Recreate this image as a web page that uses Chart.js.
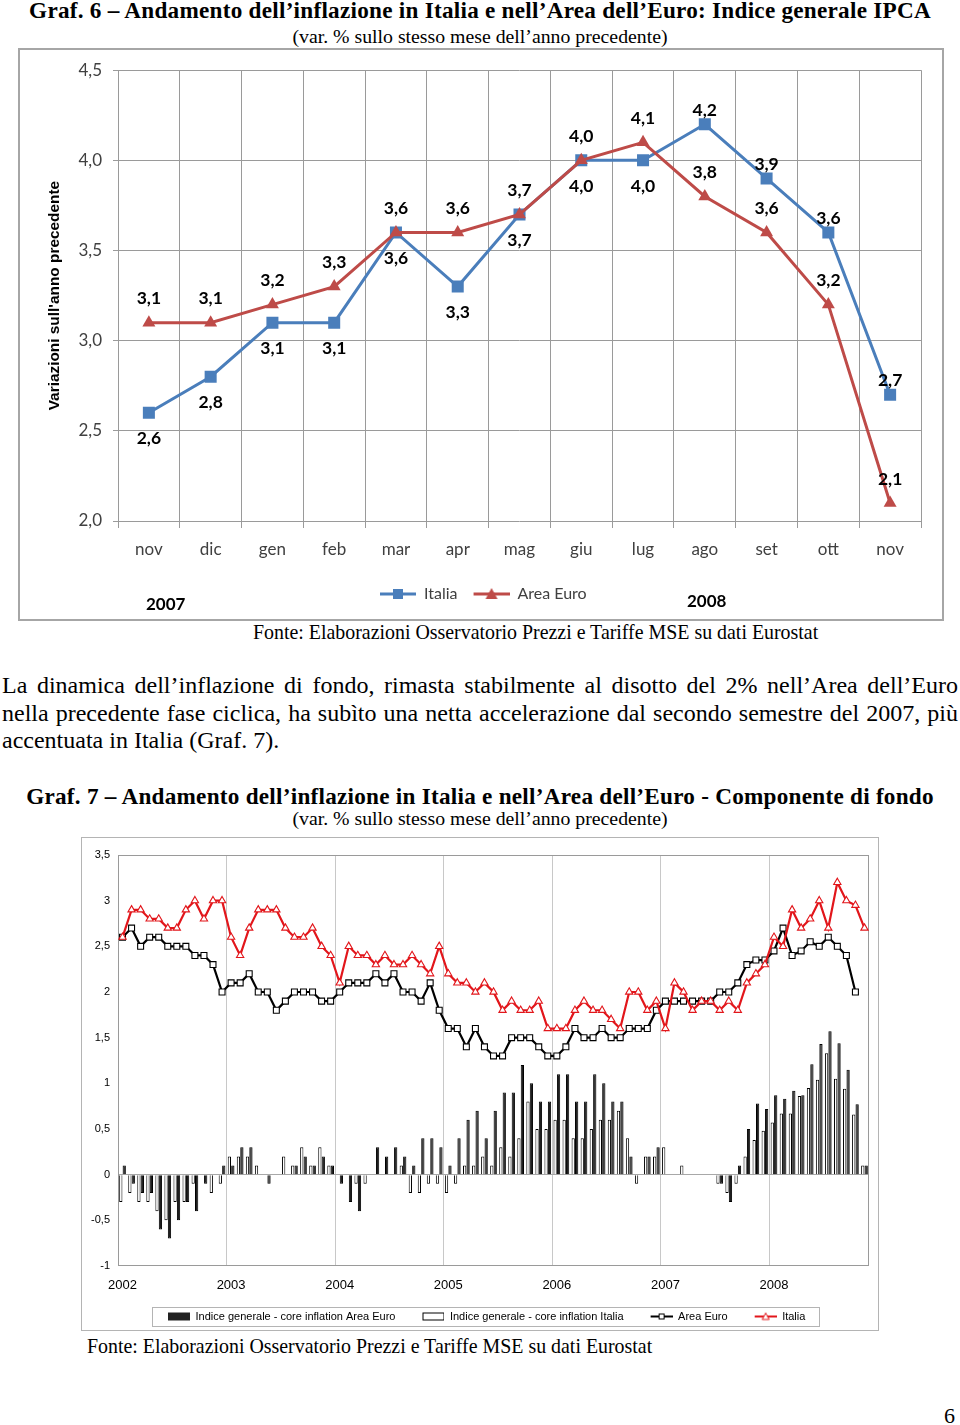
<!DOCTYPE html>
<html lang="it">
<head>
<meta charset="utf-8">
<title>Andamento dell'inflazione</title>
<script src="https://cdn.jsdelivr.net/npm/chart.js@4.4.1/dist/chart.umd.min.js"></script>
<style>
  html, body { margin: 0; padding: 0; background: #fff; }
  body { width: 960px; height: 1425px; position: relative; overflow: hidden;
         font-family: "Liberation Serif", "Times New Roman", serif; color: #000; }
  .t { position: absolute; white-space: nowrap; }
  .title { left: 0; width: 960px; text-align: center; font-weight: bold; font-size: 23.2px; line-height: 26px; letter-spacing: 0.25px; }
  .sub { left: 0; width: 960px; text-align: center; font-size: 19.8px; line-height: 22px; }
  .src { font-size: 19.9px; line-height: 22px; }
  .box { position: absolute; box-sizing: border-box; }
  .para { position: absolute; left: 2px; width: 956px; font-size: 24px; line-height: 27.5px; }
  .para .j { text-align: justify; text-align-last: justify; }
  .year { position: absolute; font-family: Lato, "Open Sans", sans-serif; font-weight: bold; font-size: 17px; line-height: 20px; }
  canvas { position: absolute; }
</style>
</head>
<body>

<div class="t title" style="top:-3.5px">Graf. 6 – Andamento dell’inflazione in Italia e nell’Area dell’Euro: Indice generale IPCA</div>
<div class="t sub" style="top:25px">(var. % sullo stesso mese dell’anno precedente)</div>

<div class="box" style="left:18px;top:48px;width:926px;height:573px;border:2px solid #a6a6a6;"></div>
<canvas id="c1" width="923" height="570" style="left:19px;top:49px"></canvas>
<div class="year" style="left:146px;top:594px">2007</div>
<div class="year" style="left:687px;top:591px">2008</div>

<div class="t src" style="left:253px;top:621px">Fonte: Elaborazioni Osservatorio Prezzi e Tariffe MSE su dati Eurostat</div>

<div class="para" style="top:672px">
  <div class="j">La dinamica dell’inflazione di fondo, rimasta stabilmente al disotto del 2% nell’Area dell’Euro</div>
  <div class="j">nella precedente fase ciclica, ha subìto una netta accelerazione dal secondo semestre del 2007, più</div>
  <div>accentuata in Italia (Graf. 7).</div>
</div>

<div class="t title" style="top:782.5px">Graf. 7 – Andamento dell’inflazione in Italia e nell’Area dell’Euro - Componente di fondo</div>
<div class="t sub" style="top:807px">(var. % sullo stesso mese dell’anno precedente)</div>

<div class="box" style="left:81px;top:837px;width:798px;height:494px;border:1px solid #b4b4b4;"></div>
<canvas id="c2" width="795" height="494" style="left:82px;top:838px"></canvas>

<div class="t src" style="left:87px;top:1335px">Fonte: Elaborazioni Osservatorio Prezzi e Tariffe MSE su dati Eurostat</div>

<div class="t" style="left:944px;top:1404px;font-size:22px;line-height:24px">6</div>

<script>
// ---------------- DATA: Graf. 6 ----------------
const g6Months   = ['nov','dic','gen','feb','mar','apr','mag','giu','lug','ago','set','ott','nov'];
const g6Italia   = [2.6, 2.8, 3.1, 3.1, 3.6, 3.3, 3.7, 4.0, 4.0, 4.2, 3.9, 3.6, 2.7];
const g6AreaEuro = [3.1, 3.1, 3.2, 3.3, 3.6, 3.6, 3.7, 4.0, 4.1, 3.8, 3.6, 3.2, 2.1];

// ---------------- DATA: Graf. 7 ----------------
const g7Years      = ['2002','2003','2004','2005','2006','2007','2008'];
const g7MonthNames = ['gen','feb','mar','apr','mag','giu','lug','ago','set','ott','nov','dic'];
// core inflation Italia (red line)
const g7CoreItalia = [
  2.6, 2.9, 2.9, 2.8, 2.8, 2.7, 2.7, 2.9, 3.0, 2.8, 3.0, 3.0,
  2.6, 2.4, 2.7, 2.9, 2.9, 2.9, 2.7, 2.6, 2.6, 2.7, 2.5, 2.4,
  2.1, 2.5, 2.4, 2.4, 2.3, 2.4, 2.3, 2.3, 2.4, 2.3, 2.2, 2.5,
  2.2, 2.1, 2.1, 2.0, 2.1, 2.0, 1.8, 1.9, 1.8, 1.8, 1.9, 1.6,
  1.6, 1.6, 1.8, 1.9, 1.8, 1.8, 1.7, 1.6, 2.0, 2.0, 1.8, 1.9,
  1.6, 2.1, 2.0, 1.8, 1.9, 1.9, 1.8, 1.9, 1.8, 2.1, 2.2, 2.3,
  2.6, 2.5, 2.9, 2.7, 2.8, 3.0, 2.7, 3.2, 3.0, 2.95, 2.7
];
// core inflation Area Euro (black line)
const g7CoreAreaEuro = [
  2.6, 2.7, 2.5, 2.6, 2.6, 2.5, 2.5, 2.5, 2.4, 2.4, 2.3, 2.0,
  2.1, 2.1, 2.2, 2.0, 2.0, 1.8, 1.9, 2.0, 2.0, 2.0, 1.9, 1.9,
  2.0, 2.1, 2.1, 2.1, 2.2, 2.1, 2.2, 2.0, 2.0, 1.9, 2.1, 1.8,
  1.6, 1.6, 1.4, 1.6, 1.4, 1.3, 1.3, 1.5, 1.5, 1.5, 1.4, 1.3,
  1.3, 1.4, 1.6, 1.5, 1.5, 1.6, 1.5, 1.5, 1.6, 1.6, 1.6, 1.8,
  1.9, 1.9, 1.9, 1.9, 1.9, 1.9, 2.0, 2.0, 2.1, 2.3, 2.35, 2.35,
  2.45, 2.7, 2.4, 2.45, 2.55, 2.5, 2.6, 2.5, 2.4, 2.0, null
];
// indice generale - core inflation Area Euro (black bars)
const g7GapAreaEuro = [
  0.1, -0.1, -0.2, -0.2, -0.6, -0.7, -0.5, -0.3, -0.4, -0.1, 0, 0.1,
  0.1, 0.3, 0.3, 0, -0.1, 0, 0, 0.1, 0.2, 0.1, 0.2, 0.1,
  -0.1, -0.3, -0.4, 0, 0.3, 0.2, 0.3, 0.2, 0.1, 0.4, 0.4, 0.3,
  0.1, 0.4, 0.6, 0.7, 0.4, 0.7, 0.9, 0.9, 1.2, 1.0, 0.8, 0.8,
  1.1, 1.1, 0.8, 0.8, 1.1, 1.0, 0.8, 0.8, 0.2, 0, 0.2, 0.3,
  0, 0, 0, 0, 0, 0, -0.1, -0.3, 0.1, 0.5, 0.78, 0.72,
  0.87, 0.83, 0.92, 0.87, 1.21, 1.43, 1.57, 1.44, 1.15, 0.77, 0.1
];
// indice generale - core inflation Italia (white bars)
const g7GapItalia = [
  -0.3, -0.2, -0.3, -0.3, -0.4, -0.5, -0.3, -0.3, -0.1, 0, -0.2, -0.1,
  0.2, 0.2, 0.2, 0.1, 0, 0, 0.2, 0.1, 0.3, 0.1, 0.3, 0.1,
  0, 0, -0.1, -0.1, 0, 0, 0, 0.1, -0.2, -0.2, -0.1, -0.1,
  -0.2, -0.1, 0.1, 0.1, 0.2, 0.1, 0.3, 0.2, 0.4, 0.8, 0.5, 0.5,
  0.6, 0.6, 0.4, 0.4, 0.5, 0.6, 0.6, 0.7, 0.4, -0.1, 0.2, 0.2,
  0.3, 0, 0.1, 0, 0, 0, -0.1, -0.2, -0.1, 0.2, 0.38, 0.48,
  0.57, 0.67, 0.67, 0.86, 0.95, 1.04, 1.33, 1.05, 0.94, 0.66, 0.1
];
const g7Categories = g7Years.flatMap(y => g7MonthNames.map(m => m + ' ' + y)).slice(0, g7CoreItalia.length);

// ---------------- helpers ----------------
Chart.defaults.font.family = 'Lato, "Open Sans", sans-serif';
const fmtIt = v => String(v).replace('.', ',');

function makeSymbol(w, h, draw) {
  const c = document.createElement('canvas');
  c.width = w; c.height = h;
  draw(c.getContext('2d'), w, h);
  return c;
}
function legendShift(targetStart) {
  return {
    id: 'legendShift',
    afterLayout(chart) {
      const lg = chart.legend;
      if (!lg || !lg.lineWidths) return;
      const pad = lg.options.labels.padding;
      const start = (lg.left + pad + lg.right - lg.lineWidths[0]) / 2;
      const d = targetStart - start;
      lg.left += d; lg.right += d;
    }
  };
}

// ---------------- Graf. 6 ----------------
const BLUE = '#4a7ebb', RED = '#be4b48';
const sym6 = [
  makeSymbol(42, 16, (c, w, h) => {
    c.strokeStyle = BLUE; c.lineWidth = 3;
    c.beginPath(); c.moveTo(6, h / 2); c.lineTo(w, h / 2); c.stroke();
    c.fillStyle = BLUE; c.fillRect(19, h / 2 - 5, 10, 10);
  }),
  makeSymbol(42, 16, (c, w, h) => {
    c.strokeStyle = RED; c.lineWidth = 3;
    c.beginPath(); c.moveTo(6, h / 2); c.lineTo(w, h / 2); c.stroke();
    c.fillStyle = RED; c.beginPath();
    c.moveTo(24, h / 2 - 6); c.lineTo(30, h / 2 + 5); c.lineTo(18, h / 2 + 5); c.closePath(); c.fill();
  })
];

const valueLabels = {
  id: 'valueLabels',
  afterDatasetsDraw(chart) {
    const ctx = chart.ctx;
    ctx.save();
    ctx.font = 'bold 17.5px Lato, "Open Sans", sans-serif';
    ctx.fillStyle = '#000';
    ctx.textAlign = 'center';
    ctx.textBaseline = 'middle';
    const it = chart.data.datasets[0].data, ae = chart.data.datasets[1].data;
    chart.getDatasetMeta(0).data.forEach((pt, i) => {
      const above = it[i] > ae[i];
      ctx.fillText(it[i].toFixed(1).replace('.', ','), pt.x, pt.y + (above ? -14 : 26));
    });
    chart.getDatasetMeta(1).data.forEach((pt, i) => {
      ctx.fillText(ae[i].toFixed(1).replace('.', ','), pt.x, pt.y - 24);
    });
    ctx.restore();
  }
};

new Chart(document.getElementById('c1'), {
  type: 'line',
  data: {
    labels: g6Months,
    datasets: [
      { label: 'Italia', data: g6Italia, order: 1, borderColor: BLUE, backgroundColor: BLUE,
        borderWidth: 3, pointStyle: 'rect', pointRadius: 8.5, pointBackgroundColor: BLUE,
        pointBorderColor: BLUE, pointBorderWidth: 0, tension: 0 },
      { label: 'Area Euro', data: g6AreaEuro, order: 0, borderColor: RED, backgroundColor: RED,
        borderWidth: 3, pointStyle: 'triangle', pointRadius: 7.5, pointBackgroundColor: RED,
        pointBorderColor: RED, pointBorderWidth: 0, tension: 0 }
    ]
  },
  options: {
    responsive: false, animation: false, devicePixelRatio: 1,
    layout: { padding: { top: 18, right: 21, left: 0, bottom: 7 } },
    scales: {
      x: {
        offset: true,
        grid: { offset: true, color: '#9a9a9a', lineWidth: 1, tickLength: 7, drawTicks: true },
        border: { display: false },
        ticks: { color: '#404040', font: { size: 17 }, padding: 11, maxRotation: 0, autoSkip: false },
        afterFit(s) { s.height = 55; }
      },
      y: {
        min: 2, max: 4.5,
        grid: { color: '#9a9a9a', lineWidth: 1, tickLength: 5 },
        border: { display: false },
        ticks: { stepSize: 0.5, color: '#404040', font: { size: 17 }, padding: 11,
                 callback: v => Number(v).toFixed(1).replace('.', ',') },
        title: { display: true, text: "Variazioni sull'anno precedente", color: '#000',
                 font: { family: '"Liberation Sans", Arial, sans-serif', size: 15.4, weight: 'bold' },
                 padding: { top: 27, bottom: 0 } },
        afterFit(s) { s.width = 99; }
      }
    },
    plugins: {
      tooltip: { enabled: false },
      legend: {
        position: 'bottom',
        labels: {
          usePointStyle: true, pointStyleWidth: 42, padding: 10, color: '#404040',
          font: { size: 16 },
          generateLabels: chart => chart.data.datasets.map((ds, i) => ({
            text: ds.label, pointStyle: sym6[i], datasetIndex: i, hidden: false,
            fontColor: '#404040', lineWidth: 0, strokeStyle: 'rgba(0,0,0,0)', fillStyle: 'rgba(0,0,0,0)'
          }))
        }
      }
    }
  },
  plugins: [valueLabels, legendShift(355)]
});

// ---------------- Graf. 7 ----------------
const LRED = '#e2161b';
const BLANK = 19;
const sym7 = [
  makeSymbol(BLANK + 22, 12, (c) => { c.fillStyle = '#222'; c.fillRect(BLANK, 2, 22, 8); }),
  makeSymbol(BLANK + 22, 12, (c) => { c.fillStyle = '#fff'; c.fillRect(BLANK, 2, 22, 8);
                               c.strokeStyle = '#000'; c.lineWidth = 1; c.strokeRect(BLANK + 0.5, 2.5, 21, 7); }),
  makeSymbol(BLANK + 22, 12, (c) => {
    c.strokeStyle = '#000'; c.lineWidth = 2; c.beginPath(); c.moveTo(BLANK, 6); c.lineTo(BLANK + 22, 6); c.stroke();
    c.fillStyle = '#fff'; c.fillRect(BLANK + 8, 3, 6, 6); c.lineWidth = 1; c.strokeRect(BLANK + 8.5, 3.5, 5, 5);
  }),
  makeSymbol(BLANK + 22, 12, (c) => {
    c.strokeStyle = LRED; c.lineWidth = 2; c.beginPath(); c.moveTo(BLANK, 6); c.lineTo(BLANK + 22, 6); c.stroke();
    c.fillStyle = '#fff'; c.lineWidth = 1; c.beginPath();
    c.moveTo(BLANK + 11, 2.5); c.lineTo(BLANK + 14.5, 9); c.lineTo(BLANK + 7.5, 9); c.closePath(); c.fill(); c.stroke();
  })
];

const plotBorder = {
  id: 'plotBorder',
  beforeDatasetsDraw(chart) {
    const { ctx, chartArea: a } = chart;
    ctx.save();
    ctx.strokeStyle = '#9a9a9a'; ctx.lineWidth = 1;
    ctx.strokeRect(Math.round(a.left) + 0.5, Math.round(a.top) + 0.5,
                   Math.round(a.right - a.left) - 1, Math.round(a.bottom - a.top) - 1);
    ctx.restore();
  }
};
const legendBox = {
  id: 'legendBox',
  afterDraw(chart) {
    const hb = chart.legend && chart.legend.legendHitBoxes;
    if (!hb || !hb.length) return;
    const f = hb[0], l = hb[hb.length - 1];
    const ctx = chart.ctx;
    ctx.save();
    ctx.strokeStyle = '#b4b4b4'; ctx.lineWidth = 1;
    const x0 = Math.round(f.left + BLANK - 16) + 0.5, x1 = Math.round(l.left + l.width + 14) + 0.5;
    const y0 = Math.round(f.top - 4) + 0.5, y1 = Math.round(f.top + 15) + 0.5;
    ctx.strokeRect(x0, y0, x1 - x0, y1 - y0);
    ctx.restore();
  }
};

new Chart(document.getElementById('c2'), {
  type: 'bar',
  data: {
    labels: g7Categories,
    datasets: [
      { type: 'bar', label: 'Indice generale - core inflation Area Euro', data: g7GapAreaEuro, order: 3,
        backgroundColor: '#1e1e1e', borderColor: '#000', borderWidth: 1,
        categoryPercentage: 0.76, barPercentage: 0.95 },
      { type: 'bar', label: 'Indice generale - core inflation Italia', data: g7GapItalia, order: 2,
        backgroundColor: '#fff', borderColor: '#000', borderWidth: 1,
        categoryPercentage: 0.76, barPercentage: 0.95 },
      { type: 'line', label: 'Area Euro', data: g7CoreAreaEuro, order: 1,
        borderColor: '#000', borderWidth: 2.2, tension: 0,
        pointStyle: 'rect', pointRadius: 4.2, pointBackgroundColor: '#fff',
        pointBorderColor: '#000', pointBorderWidth: 1.1 },
      { type: 'line', label: 'Italia', data: g7CoreItalia, order: 0,
        borderColor: LRED, borderWidth: 2.2, tension: 0,
        pointStyle: 'triangle', pointRadius: 4.2, pointBackgroundColor: '#fff',
        pointBorderColor: LRED, pointBorderWidth: 1.1 }
    ]
  },
  options: {
    responsive: false, animation: false, devicePixelRatio: 1,
    layout: { padding: { top: 17, right: 8, left: 0, bottom: 0 } },
    scales: {
      x: {
        offset: true,
        grid: { offset: true, drawTicks: false, lineWidth: 1,
                color: ctx => (ctx.index > 0 && ctx.index % 12 === 0) ? '#c8c8c8' : 'rgba(0,0,0,0)' },
        border: { display: false },
        ticks: { autoSkip: false, maxRotation: 0, minRotation: 0, padding: 12, color: '#000',
                 font: { family: '"Liberation Sans", Arial, sans-serif', size: 13 },
                 callback: (v, i) => (i % 12 === 0) ? g7Years[i / 12] : '' },
        afterFit(s) { s.height = 37; }
      },
      y: {
        min: -1, max: 3.5,
        grid: { drawTicks: false, lineWidth: 1,
                color: ctx => (ctx.tick && ctx.tick.value === 0) ? '#a8a8a8' : 'rgba(0,0,0,0)' },
        border: { display: false },
        ticks: { stepSize: 0.5, padding: 8, color: '#000',
                 font: { family: '"Liberation Sans", Arial, sans-serif', size: 11 },
                 callback: v => fmtIt(Math.round(v * 10) / 10) },
        afterFit(s) { s.width = 36; }
      }
    },
    plugins: {
      tooltip: { enabled: false },
      legend: {
        position: 'bottom',
        labels: {
          usePointStyle: true, pointStyleWidth: BLANK + 22, padding: 8, color: '#000',
          font: { family: '"Liberation Sans", Arial, sans-serif', size: 11 },
          generateLabels: chart => chart.data.datasets.map((ds, i) => ({
            text: ds.label, pointStyle: sym7[i], datasetIndex: i, hidden: false,
            fontColor: '#000', lineWidth: 0, strokeStyle: 'rgba(0,0,0,0)', fillStyle: 'rgba(0,0,0,0)'
          }))
        }
      }
    }
  },
  plugins: [plotBorder, legendBox, legendShift(86 - BLANK)]
});
</script>
</body>
</html>
